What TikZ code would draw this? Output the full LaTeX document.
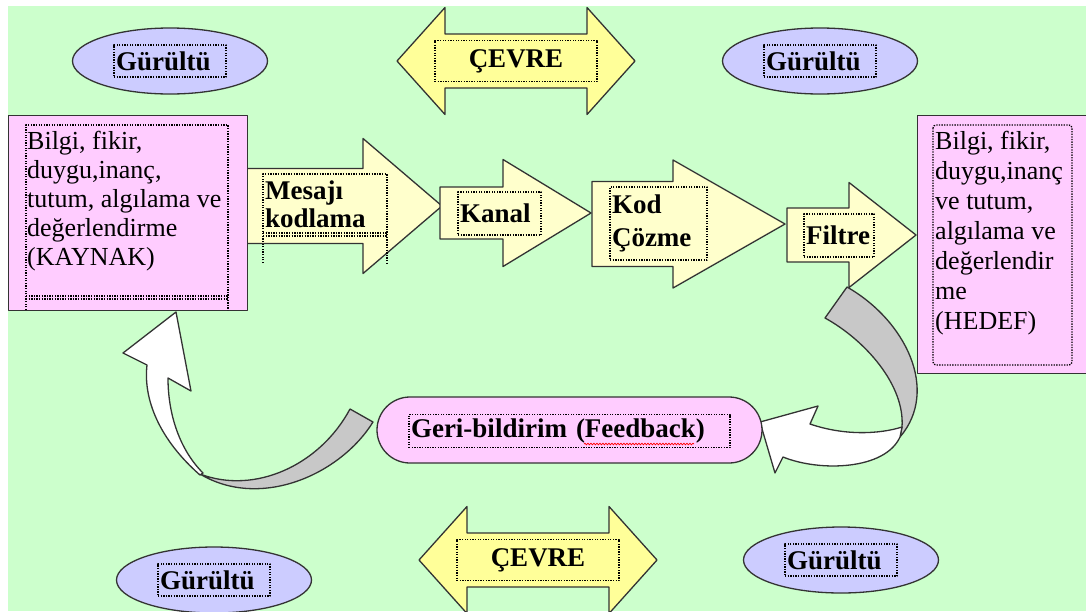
\documentclass[tikz,border=0pt]{standalone}
\usepackage{fontspec}
\setmainfont{Liberation Serif}
\usetikzlibrary{shapes.geometric,shapes.misc,decorations.pathmorphing}
\definecolor{bggreen}{HTML}{CCFFCC}
\definecolor{noiseblue}{HTML}{CCCCFF}
\definecolor{boxpink}{HTML}{FFCCFF}
\definecolor{flowyellow}{HTML}{FFFFCC}
\definecolor{envyellow}{HTML}{FFFF99}
\definecolor{bandgrey}{HTML}{C8C8C8}
\begin{document}
\begin{tikzpicture}
  [x=1pt,y=-1pt,line join=round,every node/.style={inner sep=0pt,font=\fontsize{26}{29}\selectfont}]
  \tikzstyle{outline} = [draw=black!80,line width=1.3pt]
  \tikzstyle{flow} = [outline,fill=flowyellow]
  \tikzstyle{env} = [outline,fill=envyellow]
  \tikzstyle{band} = [outline,fill=bandgrey]
  \tikzstyle{noise} = [ellipse,outline,fill=noiseblue,minimum width=195pt,minimum height=66pt]
  \tikzstyle{boldtxt} = [font=\fontsize{27}{28}\bfseries\selectfont]
  \tikzstyle{tbox} = [boldtxt,draw=black,line width=1.3pt,dash pattern=on 1.3pt off 1.3pt,align=left,inner xsep=2pt]
  \tikzstyle{dots} = [draw=black,line width=1.3pt,dash pattern=on 1.3pt off 1.3pt]

  \useasboundingbox (0,0) rectangle (1086,611);
  \clip (0,0) rectangle (1086,611);
  \fill[white] (0,0) rectangle (1086,611);
  \fill[bggreen] (8,6) rectangle (1086,611);

  % noise ellipses
  \foreach \nm/\xc/\yc in {n1/170/61, n2/820/61, n3/214/580, n4/841/560} {
    \node[noise] (\nm) at (\xc,\yc) {};
    \node[tbox,text width=108pt,minimum height=32pt] (t\nm) at (\nm) {Gürültü};
  }

  % environment arrows
  \foreach \nm/\xc/\yc in {e1/516/61, e2/538/560} {
    \draw[env] (\xc-119,\yc) -- (\xc-71,\yc-53.5) -- (\xc-71,\yc-27) -- (\xc+71,\yc-27)
      -- (\xc+71,\yc-53.5) -- (\xc+119,\yc) -- (\xc+71,\yc+53.5) -- (\xc+71,\yc+27)
      -- (\xc-71,\yc+27) -- (\xc-71,\yc+53.5) -- cycle;
    \node[tbox,align=center,text width=158pt,minimum height=41pt] (\nm) at (\xc,\yc) {ÇEVRE};
  }

  % flow arrows
  \foreach \xa/\xn/\xt/\yc/\sh/\hh in {247/363/442/206/37.5/67.5, 440/503/591/213/26/53.5,
                                      592/673/785/224/42.5/64, 787/849/916/235/27/52.5}
    \draw[flow] (\xa,\yc-\sh) -- (\xn,\yc-\sh) -- (\xn,\yc-\hh) -- (\xt,\yc)
      -- (\xn,\yc+\hh) -- (\xn,\yc+\sh) -- (\xa,\yc+\sh) -- cycle;

  % source and target boxes
  \node[outline,fill=boxpink,anchor=north west,minimum width=239pt,minimum height=195pt] (src) at (8,115) {};
  \node[outline,fill=boxpink,anchor=north west,minimum width=175pt,minimum height=258pt] (dst) at (917,115) {};
  \draw[dots] (26,310) -- (26,125) -- (228,125) -- (228,310);
  \draw[dots] (26,296) -- (228,296) (26,299) -- (228,299);
  \draw[dots,rounded corners=3pt] (933,125) rectangle (1072,365);
  \node[anchor=north west,align=left] (srctxt) at (27,131)
    {Bilgi, fikir,\\duygu,inanç,\\tutum, algılama ve\\değerlendirme\\(KAYNAK)};
  \node[anchor=north west,align=left,font=\fontsize{26}{30}\selectfont] (dsttxt) at (935,131)
    {Bilgi, fikir,\\duygu,inanç\\ve tutum,\\algılama ve\\değerlendir\\me\\(HEDEF)};

  % step texts
  \draw[dots] (263,263) -- (263,174) -- (387,174) -- (387,263);
  \draw[dots] (263,233) -- (387,233) (263,236) -- (387,236);
  \node[boldtxt,anchor=north west,align=left] (enc) at (265,181) {Mesajı\\kodlama};
  \node[tbox,text width=79pt,minimum height=43pt] (chn) at (499.5,213.5) {Kanal};
  \node[tbox,text width=93pt,minimum height=73pt,font=\fontsize{27}{33}\bfseries\selectfont] (dec) at (658.5,223.5) {Kod\\Çözme};
  \node[tbox,text width=66pt,minimum height=43pt] (flt) at (839,235.5) {Filtre};

  % feedback loop
  \draw[band] (847,287) .. controls (905,320) and (940,390) .. (900,437) -- (902,427)
    .. controls (905,385) and (865,340) .. (825,318) -- cycle;
  \draw[outline,fill=white] (900,437) .. controls (885,470) and (820,472) .. (783,457)
    -- (775,473) -- (760,422) -- (818,406) -- (810,424)
    .. controls (845,436) and (880,434) .. (902,427) -- cycle;
  \draw[band] (350,409) -- (373,422) .. controls (340,475) and (260,510) .. (200,474)
    .. controls (255,495) and (320,465) .. (350,409) -- cycle;
  \draw[outline,fill=white] (200,475) .. controls (160,440) and (143,400) .. (147,365)
    -- (123,353) -- (176,312) -- (191,391) -- (168,378)
    .. controls (168,415) and (180,450) .. (203,473) -- cycle;
  \node[rounded rectangle,outline,fill=boxpink,minimum width=385pt,minimum height=66pt] (fb) at (569.5,430) {};
  \node[tbox,text width=317pt,minimum height=33pt] (fbt) at (569.5,431) {Geri-bildirim (Feedback)};
  \draw[red,line width=0.7pt,decorate,decoration={snake,amplitude=0.9pt,segment length=3pt}] (584,444) -- (694,444);

\end{tikzpicture}
\end{document}
